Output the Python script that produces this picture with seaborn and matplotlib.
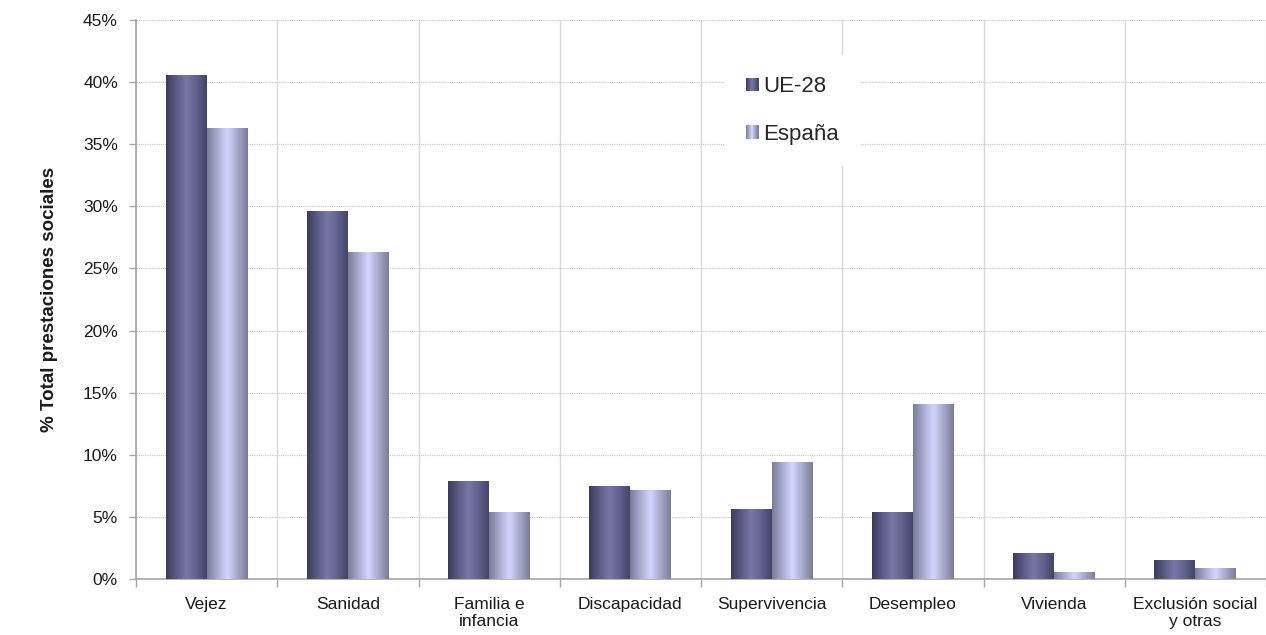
import numpy as np
import pandas as pd
import matplotlib
matplotlib.use("Agg")
import matplotlib.pyplot as plt
import seaborn as sns
from matplotlib.colors import LinearSegmentedColormap
from matplotlib.patches import Rectangle
from matplotlib.legend_handler import HandlerBase
from matplotlib.ticker import FuncFormatter, MultipleLocator

categories = ["Vejez", "Sanidad", "Familia e\ninfancia", "Discapacidad", "Supervivencia",
              "Desempleo", "Vivienda", "Exclusión social\ny otras"]
series_names = ["UE-28", "España"]
ue28 = [40.6, 29.6, 7.9, 7.5, 5.6, 5.4, 2.1, 1.5]
espana = [36.3, 26.3, 5.4, 7.2, 9.4, 14.1, 0.6, 0.9]

sns.set_theme(style="white")
plt.rcParams['font.family'] = ['Liberation Sans', 'DejaVu Sans']

df = pd.DataFrame({
    "cat": categories * 2,
    "serie": [series_names[0]] * len(categories) + [series_names[1]] * len(categories),
    "val": ue28 + espana,
})

grad_cols = {
    "UE-28": ["#3b3c5a", "#5a5b85", "#7878a8", "#60618c", "#43446a"],
    "España": ["#797b96", "#a8abd0", "#d2d6ff", "#a5a8cc", "#7a7c97"],
}
cmaps = {k: LinearSegmentedColormap.from_list(k, v) for k, v in grad_cols.items()}

fig = plt.figure(figsize=(12.66, 6.35), dpi=100)
ax = fig.add_axes([136 / 1266, 1 - 579 / 635, 1130 / 1266, 559 / 635])

sns.barplot(data=df, x="cat", y="val", hue="serie", hue_order=series_names,
            palette=["#5a5b85", "#b0b3dd"], width=0.58, ax=ax, legend=False,
            saturation=1)

grad = np.linspace(0, 1, 256).reshape(1, -1)
bars = [p for p in ax.patches if isinstance(p, Rectangle) and p.get_height() > 0]
n = len(categories)
for i, p in enumerate(bars):
    name = series_names[0] if i < n else series_names[1]
    x, w, h = p.get_x(), p.get_width(), p.get_height()
    im = ax.imshow(grad, cmap=cmaps[name], extent=[x, x + w, 0, h], aspect="auto",
                   zorder=3, interpolation="bilinear")
    im.set_clip_path(p)
    p.set_facecolor("none")
    p.set_edgecolor("none")

ax.set_xlim(-0.5, n - 0.5)
ax.set_ylim(0, 45)
ax.set_aspect("auto")

ax.yaxis.set_major_locator(MultipleLocator(5))
ax.yaxis.set_major_formatter(FuncFormatter(lambda v, _: f"{v:.0f}%"))
ax.set_xticks(range(n))
ax.set_xticklabels(categories)
ax.set_xticks(np.arange(-0.5, n, 1.0), minor=True)

ax.grid(axis="y", which="major", color="#c4c4c4", linestyle=(0, (1, 1)), linewidth=0.8, zorder=0)
ax.grid(axis="x", which="minor", color="#d9d9d9", linestyle="-", linewidth=1.0, zorder=0)
ax.grid(axis="x", which="major", visible=False)
ax.set_axisbelow(True)

for s in ["top", "right"]:
    ax.spines[s].set_visible(False)
for s in ["left", "bottom"]:
    ax.spines[s].set_color("#a6a6a6")
    ax.spines[s].set_linewidth(1.2)

ax.tick_params(axis="y", which="major", left=True, length=5, width=1, color="#a6a6a6",
               labelsize=12.5, labelcolor="#1a1a1a", pad=8)
ax.tick_params(axis="x", which="major", bottom=False, length=0, labelsize=12.5,
               labelcolor="#1a1a1a", pad=13)
ax.tick_params(axis="x", which="minor", bottom=True, length=6, width=1, color="#a6a6a6")

ax.set_xlabel("")
ax.set_ylabel("% Total prestaciones sociales", fontsize=13.5, fontweight="bold", color="#1a1a1a")
ax.yaxis.set_label_coords(-78 / 1130, 0.5)


class GradHandler(HandlerBase):
    def __init__(self, cmap):
        super().__init__()
        self.cmap = cmap

    def create_artists(self, legend, orig_handle, xdescent, ydescent, width, height,
                       fontsize, trans):
        arts = []
        k = 12
        for j in range(k):
            c = self.cmap((j + 0.5) / k)
            r = Rectangle((-xdescent + width * j / k, -ydescent), width / k + 0.3, height,
                          facecolor=c, edgecolor="none", transform=trans)
            arts.append(r)
        return arts


h1 = Rectangle((0, 0), 1, 1)
h2 = Rectangle((0, 0), 1, 1)
leg = ax.legend([h1, h2], series_names,
                handler_map={h1: GradHandler(cmaps["UE-28"]), h2: GradHandler(cmaps["España"])},
                loc="upper left", bbox_to_anchor=((725 - 136) / 1130, (579 - 55) / 559),
                frameon=True, facecolor="white", edgecolor="none", framealpha=1,
                fontsize=16, handlelength=0.55, handleheight=0.55, handletextpad=0.22,
                labelspacing=1.2, borderpad=0.95, borderaxespad=0)
leg.get_frame().set_boxstyle("square", pad=0)
leg.set_zorder(5)

fig.savefig("out.png", dpi=100)
